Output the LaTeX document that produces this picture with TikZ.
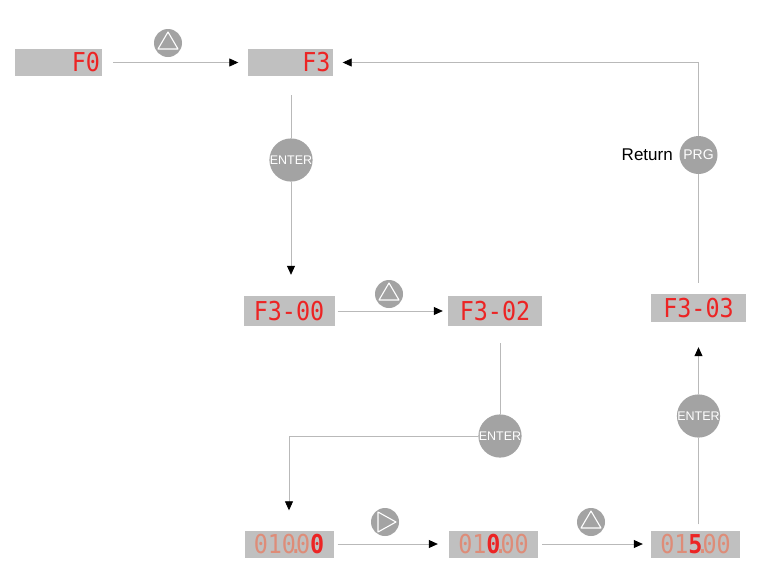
\documentclass[tikz,border=0pt]{standalone}
\usepackage{fontspec}
\setmainfont{Liberation Sans}
\newfontfamily\segfont[FakeStretch=0.9]{DejaVu Sans Mono}
\usepackage{tikz}
\usetikzlibrary{arrows.meta}
\usetikzlibrary{positioning}
\definecolor{dgray}{RGB}{192, 192, 192}
\definecolor{bgray}{RGB}{163, 163, 163}
\definecolor{lgray}{RGB}{185, 185, 185}
\definecolor{segred}{RGB}{236, 36, 36}
\definecolor{segpale}{RGB}{222, 140, 120}
\newcommand{\segdim}[1]{\textcolor{segpale}{#1}}
\tikzset{line/.style = {draw=lgray, line width=0.8pt}}
\tikzset{arr/.style = {line, -{Triangle[black, length=9pt, width=8pt]}}}
\tikzset{disp/.style = {fill=dgray, inner sep=0, minimum height=27pt,
                        text=segred, font=\segfont\fontsize{26}{26}\selectfont}}
\tikzset{btn/.style = {circle, fill=bgray, inner sep=0, text=white}}
\tikzset{enter/.style = {btn, minimum size=42pt, font=\fontsize{12.5}{12.5}\selectfont}}
\tikzset{icon/.style = {draw=white, line width=1.1pt, line join=round}}

\begin{document}
\begin{tikzpicture}[x=1pt, y=-1pt]
    \useasboundingbox[fill=white] (0, 0) rectangle (764, 574);

    % displays
    \node [disp, text width=83pt, align=right, inner xsep=2pt] (f0) at (58.5, 62.5) {F0};
    \node [disp, text width=81pt, align=right, inner xsep=2pt] (f3) at (290, 62.5) {F3};
    \node [disp, minimum width=91pt, minimum height=30pt] (f300) at (289, 311) {F3-00};
    \node [disp, minimum width=94pt, minimum height=30pt] (f302) at (495, 311) {F3-02};
    \node [disp, minimum width=95pt, minimum height=28pt] (f303) at (698.5, 308) {F3-03};
    \node [disp, minimum width=89pt] (b1) at (289, 544)
        {\segdim{010\makebox[0pt]{.}0}\textbf{0}};
    \node [disp, minimum width=89pt] (b2) at (493.5, 544)
        {\segdim{01}\textbf{0}\segdim{\makebox[0pt]{.}00}};
    \node [disp, minimum width=89pt] (b3) at (695.5, 544)
        {\segdim{01}\textbf{5}\segdim{\makebox[0pt]{.}00}};

    % keys
    \node [btn, minimum size=28pt] (upA) at (168, 43) {};
    \node [btn, minimum size=28pt] (upB) at (389, 294) {};
    \node [btn, minimum size=28pt] (rightA) at (385, 522) {};
    \node [btn, minimum size=28pt] (upC) at (591, 522) {};
    \node [enter] (enterA) at (291, 160) {ENTER};
    \node [enter] (enterB) at (500, 436) {ENTER};
    \node [enter] (enterC) at (698.5, 416) {ENTER};
    \node [btn, minimum size=38pt, font=\fontsize{14}{14}\selectfont] (prg) at (698.5, 155) {PRG};
    \node [left=3pt of prg, font=\fontsize{17}{17}\selectfont] (ret) {Return};

    \draw [icon, shift={(upA.center)}] (-10, 6) -- (10, 6) -- (0, -11) -- cycle;
    \draw [icon, shift={(upB.center)}] (-10, 6) -- (10, 6) -- (0, -11) -- cycle;
    \draw [icon, shift={(upC.center)}] (-10, 6) -- (10, 6) -- (0, -11) -- cycle;
    \draw [icon, shift={(rightA.center)}] (-7, -10) -- (11, 0) -- (-7, 10) -- cycle;

    % connectors
    \draw [arr, shorten <=11pt, shorten >=9pt] (f0.east) -- (f3.west);
    \draw [line, shorten <=19pt] (f3.south -| enterA) -- (enterA);
    \draw [arr, shorten >=21pt] (enterA) -- (enterA |- f300.north);
    \draw [arr, shorten <=3pt, shorten >=5pt] (f300.east) -- (f302.west);
    \draw [line, shorten <=17pt] (enterB |- f302.south) -- (enterB);
    \draw [arr, shorten >=20pt] (enterB) -| (b1.north);
    \draw [arr, shorten <=4pt, shorten >=11pt] (b1.east) -- (b2.west);
    \draw [arr, shorten <=4pt, shorten >=8pt] (b2.east) -- (b3.west);
    \draw [line, shorten <=6pt] (enterC |- b3.north) -- (enterC);
    \draw [arr, shorten >=25pt] (enterC) -- (enterC |- f303.south);
    \draw [line, shorten <=11pt] (f303.north) -- (prg);
    \draw [arr, shorten >=10pt] (prg) |- (f3.east);
  \end{tikzpicture}
\end{document}
